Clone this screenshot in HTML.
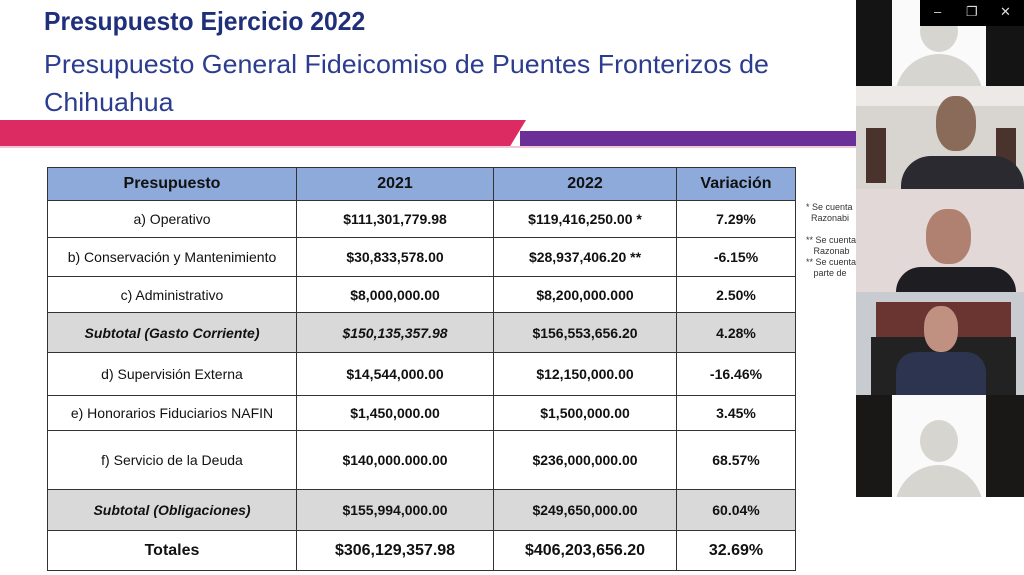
<!DOCTYPE html>
<html><head><meta charset="utf-8"><style>
body{margin:0;width:1024px;height:575px;overflow:hidden;background:#fff;font-family:"Liberation Sans",sans-serif;position:relative}
.a{position:absolute}
.t1{left:44px;top:6px;font-size:26px;font-weight:bold;color:#1f2f7a;transform:scaleX(0.95);transform-origin:left;white-space:nowrap}
.t2{left:44px;font-size:26px;color:#2c3d8f;white-space:nowrap;transform:scaleX(1.03);transform-origin:left}
table{position:absolute;left:47px;top:167px;border-collapse:collapse;font-size:14px;color:#111}
td{border:1.5px solid #333;text-align:center;padding:0}
.h td{background:#8eaadb;font-weight:bold;font-size:16px}
.s td{background:#d9d9d9;font-style:italic;font-weight:bold}
.b{font-weight:bold}
.tile{position:absolute;left:856px;width:168px;overflow:hidden}
.av{position:absolute;left:36px;width:94px;top:0;bottom:0;background:#fafafa}
.av .hd{position:absolute;left:28px;top:16px;width:38px;height:42px;border-radius:50%;background:#d6d5d0}
.av .bd{position:absolute;left:3px;top:58px;width:88px;height:60px;border-radius:44px 44px 0 0;background:#d6d5d0}
</style></head><body>
<div class="a t1">Presupuesto Ejercicio 2022</div>
<div class="a t2" style="top:49px">Presupuesto General Fideicomiso de Puentes Fronterizos de</div>
<div class="a t2" style="top:87px">Chihuahua</div>
<div class="a" style="left:0;top:120px;width:526px;height:26px;background:#dc2a63;clip-path:polygon(0 0,100% 0,97% 100%,0 100%)"></div>
<div class="a" style="left:520px;top:131px;width:336px;height:15px;background:#6b2f98"></div>
<div class="a" style="left:0;top:146px;width:856px;height:2px;background:#f2c6d6"></div>
<table>
<colgroup><col style="width:249px"><col style="width:197px"><col style="width:183px"><col style="width:119px"></colgroup>
<tr class="h" style="height:33px"><td>Presupuesto</td><td>2021</td><td>2022</td><td>Variación</td></tr>
<tr style="height:37px"><td>a) Operativo</td><td class="b">$111,301,779.98</td><td class="b">$119,416,250.00 *</td><td class="b">7.29%</td></tr>
<tr style="height:39px"><td>b) Conservación y Mantenimiento</td><td class="b">$30,833,578.00</td><td class="b">$28,937,406.20 **</td><td class="b">-6.15%</td></tr>
<tr style="height:36px"><td>c) Administrativo</td><td class="b">$8,000,000.00</td><td class="b">$8,200,000.000</td><td class="b">2.50%</td></tr>
<tr class="s" style="height:40px"><td>Subtotal (Gasto Corriente)</td><td>$150,135,357.98</td><td style="font-style:normal">$156,553,656.20</td><td style="font-style:normal">4.28%</td></tr>
<tr style="height:43px"><td>d) Supervisión Externa</td><td class="b">$14,544,000.00</td><td class="b">$12,150,000.00</td><td class="b">-16.46%</td></tr>
<tr style="height:35px"><td>e) Honorarios Fiduciarios NAFIN</td><td class="b">$1,450,000.00</td><td class="b">$1,500,000.00</td><td class="b">3.45%</td></tr>
<tr style="height:59px"><td>f) Servicio de la Deuda</td><td class="b">$140,000.000.00</td><td class="b">$236,000,000.00</td><td class="b">68.57%</td></tr>
<tr class="s" style="height:41px"><td>Subtotal (Obligaciones)</td><td style="font-style:normal">$155,994,000.00</td><td style="font-style:normal">$249,650,000.00</td><td style="font-style:normal">60.04%</td></tr>
<tr style="height:40px;font-size:16px;font-weight:bold"><td>Totales</td><td>$306,129,357.98</td><td>$406,203,656.20</td><td>32.69%</td></tr>
</table>
<div class="a" style="left:806px;top:202px;font-size:9px;line-height:11px;color:#333;white-space:nowrap;text-align:left">* Se cuenta<br>&nbsp;&nbsp;Razonabi<br><br>** Se cuenta<br>&nbsp;&nbsp;&nbsp;Razonab<br>** Se cuenta<br>&nbsp;&nbsp;&nbsp;parte de</div>
<div class="tile" style="top:0;height:86px;background:#141414"><div class="av"><div class="hd" style="top:10px"></div><div class="bd" style="top:54px"></div></div>
<div class="a" style="left:64px;top:0;width:104px;height:26px;background:#000;color:#ddd;font-size:13px"><span class="a" style="left:14px;top:4px">–</span><span class="a" style="left:46px;top:4px">❐</span><span class="a" style="left:80px;top:4px">✕</span></div></div>
<div class="tile" style="top:86px;height:103px;background:#d8d4d0">
<div class="a" style="left:0;top:0;width:168px;height:20px;background:#ece9e6"></div>
<div class="a" style="left:10px;top:42px;width:20px;height:55px;background:#4a332c"></div>
<div class="a" style="left:140px;top:42px;width:20px;height:50px;background:#4a332c"></div>
<div class="a" style="left:80px;top:10px;width:40px;height:55px;border-radius:45%;background:#8a6a58"></div>
<div class="a" style="left:45px;top:70px;width:123px;height:33px;border-radius:30px 30px 0 0;background:#2a2a30"></div></div>
<div class="tile" style="top:189px;height:103px;background:#e2d8d8">
<div class="a" style="left:70px;top:20px;width:45px;height:55px;border-radius:45%;background:#b08070"></div>
<div class="a" style="left:40px;top:78px;width:120px;height:25px;border-radius:30px 30px 0 0;background:#1e1e22"></div></div>
<div class="tile" style="top:292px;height:103px;background:#c8ccd0">
<div class="a" style="left:20px;top:10px;width:135px;height:35px;background:#6a3430"></div>
<div class="a" style="left:15px;top:45px;width:145px;height:58px;background:#222"></div>
<div class="a" style="left:68px;top:14px;width:34px;height:46px;border-radius:45%;background:#c09080"></div>
<div class="a" style="left:40px;top:60px;width:90px;height:43px;border-radius:20px 20px 0 0;background:#2c3450"></div></div>
<div class="tile" style="top:395px;height:102px;background:#1a1717"><div class="av"><div class="hd" style="top:25px"></div><div class="bd" style="top:70px"></div></div></div>
</body></html>
